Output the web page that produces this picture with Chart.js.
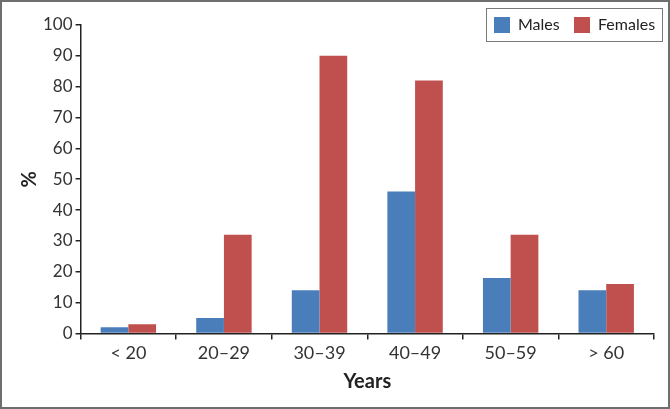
<!DOCTYPE html>
<html>
<head>
<meta charset="utf-8">
<script src="https://cdn.jsdelivr.net/npm/chart.js@4/dist/chart.umd.min.js"></script>
<style>
	html, body { margin: 0; padding: 0; background: #fff; }
	#wrap {
		position: relative;
		width: 670px;
		height: 409px;
		box-sizing: border-box;
		border: 2px solid #6e6e6e;
	}
	#ageChart { display: block; }
</style>
</head>
<body>
<div id="wrap"><canvas id="ageChart" width="666" height="405"></canvas></div>
<script>
const ageGroups = ["< 20", "20–29", "30–39", "40–49", "50–59", "> 60"];
const malesPct = [2, 5, 14, 46, 18, 14];
const femalesPct = [3, 32, 90, 82, 32, 16];
const yTicks = [0, 10, 20, 30, 40, 50, 60, 70, 80, 90, 100];

const fontFamily = "Lato, 'Open Sans', sans-serif";

// legend drawn by hand so it can sit in a framed box over the plot's top-right corner
const boxedLegend = {
	id: "boxedLegend",
	afterDraw(chart) {
		const ctx = chart.ctx;
		const x0 = 484, y0 = 6, w = 176, h = 33;
		ctx.save();
		ctx.fillStyle = "#fff";
		ctx.fillRect(x0, y0, w, h);
		ctx.strokeStyle = "#7a7a7a";
		ctx.lineWidth = 1;
		ctx.strokeRect(x0 + 0.5, y0 + 0.5, w, h);
		ctx.font = "16px " + fontFamily;
		ctx.textBaseline = "middle";
		let x = x0 + 8;
		chart.data.datasets.forEach((ds) => {
			ctx.fillStyle = ds.backgroundColor;
			ctx.fillRect(x, y0 + 9, 16, 16);
			ctx.fillStyle = "#222";
			ctx.fillText(ds.label, x + 24, y0 + 17);
			x += 80;
		});
		ctx.restore();
	},
};

const ctx = document.getElementById("ageChart").getContext("2d");
new Chart(ctx, {
	type: "bar",
	data: {
		labels: ageGroups,
		datasets: [
			{
				label: "Males",
				data: malesPct,
				backgroundColor: "#4a7ebb",
				categoryPercentage: 0.58,
				barPercentage: 1.0,
			},
			{
				label: "Females",
				data: femalesPct,
				backgroundColor: "#c0504d",
				categoryPercentage: 0.58,
				barPercentage: 1.0,
			},
		],
	},
	options: {
		responsive: false,
		animation: false,
		layout: { padding: { top: 23, right: 14, left: 18, bottom: 9 } },
		plugins: {
			legend: { display: false },
			tooltip: { enabled: false },
		},
		scales: {
			x: {
				grid: {
					display: true,
					drawOnChartArea: false,
					drawTicks: true,
					tickLength: 6,
					color: "#222",
					lineWidth: 1.5,
				},
				border: { display: true, color: "#222", width: 1.5 },
				ticks: {
					color: "#333",
					font: { family: fontFamily, size: 18 },
					padding: 3,
				},
				title: {
					display: true,
					text: "Years",
					color: "#222",
					font: { family: fontFamily, size: 20, weight: "bold" },
					padding: { top: 3 },
				},
			},
			y: {
				min: 0,
				max: 100,
				afterBuildTicks: (axis) => {
					axis.ticks = yTicks.map((v) => ({ value: v }));
				},
				grid: {
					display: true,
					drawOnChartArea: false,
					drawTicks: true,
					tickLength: 5,
					color: "#222",
					lineWidth: 1.5,
				},
				border: { display: true, color: "#222", width: 1.5 },
				ticks: {
					color: "#333",
					font: { family: fontFamily, size: 17 },
					padding: 3,
				},
				title: {
					display: true,
					text: "%",
					color: "#222",
					font: { family: fontFamily, size: 20, weight: "bold", lineHeight: 1.0 },
					padding: { top: 0, bottom: 0 },
				},
			},
		},
	},
	plugins: [boxedLegend],
});
</script>
</body>
</html>
